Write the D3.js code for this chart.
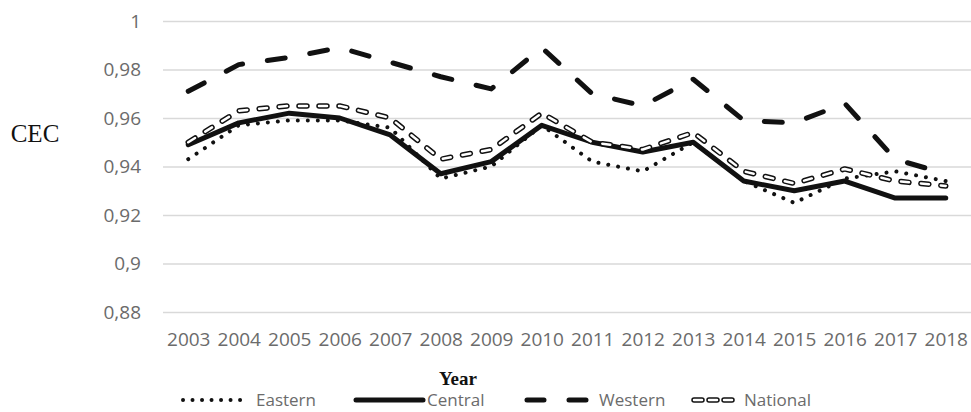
<!DOCTYPE html>
<html>
<head>
<meta charset="utf-8">
<script src="https://cdn.jsdelivr.net/npm/d3@7"></script>
<style>
  body { margin: 0; background: #fff; }
  svg { display: block; }
</style>
</head>
<body>
<div id="container"></div>
<script>
// chart values
const years = ["2003","2004","2005","2006","2007","2008","2009","2010","2011","2012","2013","2014","2015","2016","2017","2018"];
const eastern  = [0.943, 0.957, 0.959, 0.959, 0.956, 0.935, 0.940, 0.957, 0.942, 0.938, 0.950, 0.934, 0.925, 0.935, 0.938, 0.934];
const central  = [0.949, 0.958, 0.962, 0.960, 0.953, 0.937, 0.942, 0.957, 0.950, 0.946, 0.950, 0.934, 0.930, 0.934, 0.927, 0.927];
const western  = [0.971, 0.982, 0.985, 0.989, 0.983, 0.977, 0.972, 0.989, 0.970, 0.965, 0.976, 0.959, 0.958, 0.966, 0.943, 0.937];
const national = [0.950, 0.963, 0.965, 0.965, 0.960, 0.943, 0.947, 0.962, 0.950, 0.947, 0.954, 0.938, 0.933, 0.939, 0.934, 0.932];
const yTicks = [0.88, 0.9, 0.92, 0.94, 0.96, 0.98, 1];
const seriesNames = ["Eastern", "Central", "Western", "National"];

const width = 971;
const height = 412;
const plot = {left: 163, right: 971, top: 21, bottom: 312};

const svg = d3.select("#container")
  .append("svg")
  .attr("width", width)
  .attr("height", height)

// scales
const xScale = d3.scalePoint()
  .domain(years)
  .range([plot.left, plot.right])
  .padding(0.5)

const yScale = d3.scaleLinear()
  .domain([0.88, 1])
  .range([plot.bottom, plot.top])

const fmt = d => String(+d.toFixed(2)).replace(".", ",");

// y axis + gridlines
const yAxis = svg.append("g")
  .attr("transform", `translate(${plot.left},0)`)
  .call(d3.axisLeft(yScale).tickValues(yTicks).tickFormat(fmt)
    .tickSize(-(plot.right - plot.left)).tickPadding(22))
yAxis.select(".domain").remove()
yAxis.selectAll("line").attr("stroke", "#d9d9d9").attr("stroke-width", 1.5)
yAxis.selectAll("text")
  .attr("fill", "#6b6b6b")
  .style("font-family", "'Open Sans', sans-serif")
  .style("font-size", "19px")

// x axis
const xAxis = svg.append("g")
  .attr("transform", `translate(0,${plot.bottom})`)
  .call(d3.axisBottom(xScale).tickSize(0).tickPadding(21))
xAxis.select(".domain").remove()
xAxis.selectAll("text")
  .attr("fill", "#6b6b6b")
  .style("font-family", "'Open Sans', sans-serif")
  .style("font-size", "19px")

// axis titles
svg.append("text")
  .attr("x", 35).attr("y", 142)
  .attr("text-anchor", "middle")
  .style("font-family", "'Liberation Serif', 'Times New Roman', serif")
  .style("font-size", "25px")
  .attr("fill", "#111")
  .text("CEC")

svg.append("text")
  .attr("x", 458).attr("y", 385)
  .attr("text-anchor", "middle")
  .style("font-family", "'Liberation Serif', 'Times New Roman', serif")
  .style("font-size", "19px")
  .style("font-weight", "bold")
  .attr("fill", "#111")
  .text("Year")

// line styles per series
const styles = {
  Eastern:  {width: 4, dash: "0.01 10"},
  Central:  {width: 5, dash: null},
  Western:  {width: 5, dash: "18 25"},
  National: {width: 5.5, dash: "8 12", hollow: true}
};
const seriesData = [eastern, central, western, national];

const line = d3.line()
  .x((d, i) => xScale(years[i]))
  .y(d => yScale(d))

function drawStroke(sel, st) {
  sel.attr("fill", "none")
    .attr("stroke", "#111")
    .attr("stroke-width", st.width)
    .attr("stroke-linecap", "round")
    .attr("stroke-linejoin", "round")
    .attr("stroke-dasharray", st.dash)
  if (st.hollow) {
    // white core makes the outlined dashes
    const clone = sel.clone()
    clone.attr("stroke", "#fff").attr("stroke-width", st.width - 3)
  }
}

seriesNames.forEach((name, k) => {
  svg.append("path")
    .attr("d", line(seriesData[k]))
    .call(drawStroke, styles[name])
})

// legend
const legendItems = [
  {name: "Eastern",  x1: 183, x2: 244},
  {name: "Central",  x1: 356, x2: 423},
  {name: "Western",  x1: 527, x2: 595},
  {name: "National", x1: 694, x2: 732}
];
const legendY = 400;
const legendDash = {Eastern: "0.01 9.5", Central: null, Western: "17 25", National: "8 7"};

legendItems.forEach(item => {
  const st = Object.assign({}, styles[item.name], {dash: legendDash[item.name]})
  svg.append("path")
    .attr("d", `M${item.x1},${legendY}H${item.x2}`)
    .call(drawStroke, st)
  svg.append("text")
    .attr("x", item.x2 + (item.name === "Eastern" || item.name === "National" ? 12 : 4))
    .attr("y", legendY)
    .attr("dy", "0.35em")
    .attr("fill", "#6b6b6b")
    .style("font-family", "'Open Sans', sans-serif")
    .style("font-size", "17px")
    .text(item.name)
})
</script>
</body>
</html>
